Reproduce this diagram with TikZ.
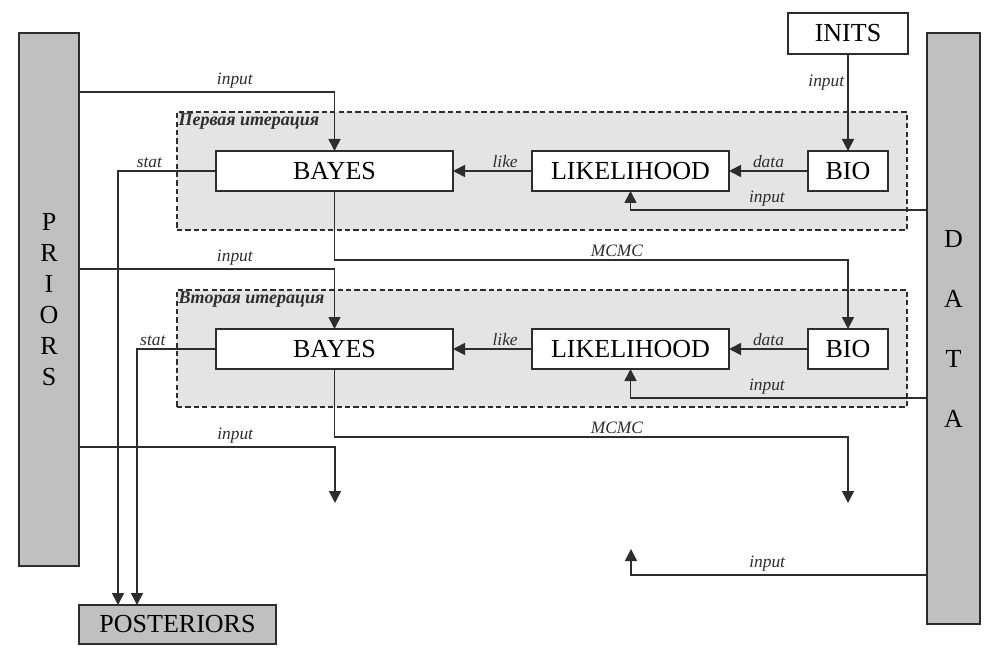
\documentclass[tikz,border=0pt]{standalone}
\usepackage{fontspec}
\setmainfont{Liberation Serif}
\usetikzlibrary{positioning}
\usetikzlibrary{arrows.meta,calc}
\definecolor{railgray}{RGB}{192,192,192}
\definecolor{itergray}{RGB}{228,228,228}
\definecolor{linegray}{RGB}{45,45,45}
\tikzstyle{block} = [draw=linegray, line width=1pt, fill=white, inner sep=0pt, outer sep=0pt, font=\fontsize{13}{15}\selectfont]
\tikzstyle{rail} = [draw=linegray, line width=1pt, fill=railgray, inner sep=0pt, outer sep=0pt, align=center, font=\fontsize{13}{15.5}\selectfont]
\tikzstyle{iter} = [draw=linegray, line width=0.9pt, dash pattern=on 2.6pt off 1.6pt, fill=itergray, inner sep=0pt]
\tikzstyle{itertitle} = [font=\fontsize{9}{11}\selectfont\bfseries\itshape, text=linegray, inner sep=1pt, anchor=north west]
\tikzstyle{lbl} = [font=\fontsize{8.7}{10}\selectfont\itshape, text=linegray, inner sep=1.5pt]
\tikzstyle{arrow} = [draw=linegray, line width=0.8pt, -{Triangle[length=6pt,width=6pt]}]

\begin{document}
\begin{tikzpicture}[x=0.5pt,y=-0.5pt]
      \useasboundingbox (0,0) rectangle (999,662);
      %%%%%%%%%%%%%%%%%%%%%%%%%%%%%%%%%%%%%%%
      \draw (542,171) node (it1) [iter, minimum width=365pt, minimum height=59pt] {};
      \draw (542,348.5) node (it2) [iter, minimum width=365pt, minimum height=58.5pt] {};
      \node (t1) [itertitle] at (it1.north west) {Первая итерация};
      \node (t2) [itertitle] at (it2.north west) {Вторая итерация};
      %%%%%%%%%%%%%%%%%%%%%%%%%%%%%%%%%%%%%%%
      \draw (49,299.5) node (priors) [rail, minimum width=30pt, minimum height=266.5pt] {P\\R\\I\\O\\R\\S};
      \draw (953.5,328.5) node (data) [rail, minimum width=26.5pt, minimum height=295.5pt, font=\fontsize{13}{30}\selectfont] {D\\A\\T\\A};
      \draw (177.5,624.5) node (post) [rail, minimum width=98.5pt, minimum height=19.5pt] {POSTERIORS};
      \draw (848,33.5) node (inits) [block, minimum width=60pt, minimum height=20.5pt] {INITS};
      \draw (334.5,171) node (bayes1) [block, minimum width=118.5pt, minimum height=20pt] {BAYES};
      \draw (630.5,171) node (lik1) [block, minimum width=98.5pt, minimum height=20pt] {LIKELIHOOD};
      \draw (848,171) node (bio1) [block, minimum width=40pt, minimum height=20pt] {BIO};
      \draw (334.5,349) node (bayes2) [block, minimum width=118.5pt, minimum height=20pt] {BAYES};
      \draw (630.5,349) node (lik2) [block, minimum width=98.5pt, minimum height=20pt] {LIKELIHOOD};
      \draw (848,349) node (bio2) [block, minimum width=40pt, minimum height=20pt] {BIO};
      \coordinate (out3) at (848,503);
      \coordinate (in3) at (335,503);
      \coordinate (lik3) at (631,549);
      %%%%%%%%%%%%%%%%%%%%%%%%%%%%%%%%%%%%%%%
      % first iteration
      \draw[arrow] (priors.east |- 0,92) -| (bayes1.north) node[lbl, pos=0.305, above] {input};
      \draw[arrow] (inits) -- (bio1) node[lbl, pos=0.29, left] {input};
      \draw[arrow] (bio1) -- (lik1) node[lbl, pos=0.5, above] {data};
      \draw[arrow] (lik1) -- (bayes1) node[lbl, pos=0.34, above] {like};
      \draw[arrow] (data.west |- 0,210) -| (lik1.south) node[lbl, pos=0.27, above] {input};
      \draw[arrow] (bayes1.west) -| (post.north -| 118,0) node[lbl, pos=0.34, above] {stat};
      \draw[arrow] (bayes1.south) -- ++(0,69) -| (bio2.north) node[lbl, pos=0.275, above] {MCMC};
      % second iteration
      \draw[arrow] (priors.east |- 0,269) -| (bayes2.north) node[lbl, pos=0.305, above] {input};
      \draw[arrow] (bio2) -- (lik2) node[lbl, pos=0.5, above] {data};
      \draw[arrow] (lik2) -- (bayes2) node[lbl, pos=0.34, above] {like};
      \draw[arrow] (data.west |- 0,398) -| (lik2.south) node[lbl, pos=0.27, above] {input};
      \draw[arrow] (bayes2.west) -| (post.north -| 137,0) node[lbl, pos=0.4, above] {stat};
      \draw[arrow] (bayes2.south) -- ++(0,68) -| (out3) node[lbl, pos=0.275, above] {MCMC};
      % next iteration
      \draw[arrow] (priors.east |- 0,447) -| (in3) node[lbl, pos=0.305, above] {input};
      \draw[arrow] (data.west |- 0,575) -| (lik3) node[lbl, pos=0.27, above] {input};
\end{tikzpicture}
\end{document}
